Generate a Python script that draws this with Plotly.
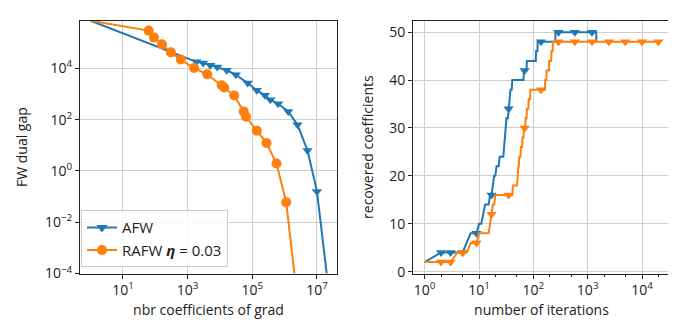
"""
Convergence of AFW vs RAFW: dual gap against gradient cost, and support recovery.
"""

import numpy as np
import plotly.graph_objects as go

BLUE = "#1f77b4"
ORANGE = "#ff7f0e"
FONT = "Open Sans, Noto Sans, sans-serif"
TEXT = "#222"

# left panel: FW dual gap vs number of gradient coefficients
afw_coefs = [1, 1860, 3020, 5000, 8200, 1.62e4, 3.1e4, 7.2e4, 1.38e5, 2.46e5,
             3.6e5, 6.3e5, 1.29e6, 2.5e6, 5.1e6, 1.0e7, 2.0e7]
afw_gap = [7.2e5, 1.8e4, 1.63e4, 1.33e4, 1.12e4, 8400, 5600, 2700, 1390, 890,
           600, 415, 210, 63, 6.3, 0.16, 1e-4]

rafw_coefs = [1, 62, 91, 161, 303, 613, 1590, 4040, 1.12e4, 1.35e4, 2.75e4,
              5.4e4, 6.4e4, 1.38e5, 2.75e5, 5.6e5, 1.12e6, 2.0e6]
rafw_gap = [7.2e5, 2.96e5, 1.58e5, 8.7e4, 4.2e4, 2.2e4, 1.03e4, 5.9e3, 2.2e3,
            1.8e3, 870, 210, 129, 37, 12.3, 1.95, 0.06, 1e-4]

# right panel: recovered coefficients, as (first iteration, value) plateaus
afw_iter_change = [1, 2, 6, 7, 10, 12, 13, 16, 18, 19, 21, 24, 29, 30, 31, 32,
                   35, 37, 38, 41, 67, 76, 112, 120, 255, 1440]
afw_recovered = [2, 4, 6, 8, 10, 12, 14, 16, 18, 20, 22, 24, 26, 28, 30, 32,
                 34, 36, 38, 40, 42, 44, 46, 48, 50, 48]
afw_last_iter = 1440
afw_mark_iters = [2, 3, 5, 9, 17, 35, 69, 138, 290, 580, 1200]

rafw_iter_change = [1, 4, 7, 10, 16, 17, 18, 20, 42, 51, 53, 55, 59, 63, 67,
                    72, 76, 82, 88, 165, 175, 195, 215, 228]
rafw_recovered = [2, 4, 6, 8, 10, 12, 14, 16, 18, 20, 22, 24, 26, 28, 30,
                  32, 34, 36, 38, 40, 42, 44, 46, 48]
rafw_last_iter = 20000
rafw_mark_iters = [2, 3, 5, 9, 17, 35, 69, 138, 290, 580, 1200, 2450, 4900,
                   10000, 20000]

# tick exponents
gap_exps = [-4, -2, 0, 2, 4]
coef_exps = [1, 3, 5, 7]
iter_exps = [0, 1, 2, 3, 4]


def plateau_path(starts, values, last):
    """Turn (start, value) plateaus into a per-iteration polyline."""
    xs, ys = [], []
    for i, (s, v) in enumerate(zip(starts, values)):
        end = starts[i + 1] - 1 if i + 1 < len(starts) else last
        xs += [s, end] if end > s else [s]
        ys += [v, v] if end > s else [v]
    return xs, ys


def pow_ticks(exps):
    vals = [10.0 ** e for e in exps]
    text = [f"10<sup>{str(e).replace('-', '−')}</sup>" for e in exps]
    return dict(tickvals=vals, ticktext=text)


def axis_title(text, standoff=6):
    return dict(text=text, standoff=standoff, font=dict(size=14, color=TEXT, family=FONT))


fig = go.Figure()

# ---- left panel
for name, xs, ys, color, symbol, size in [
    ("AFW", afw_coefs, afw_gap, BLUE, "triangle-down", 9),
    ("RAFW <b><i>η</i></b> = 0.03", rafw_coefs, rafw_gap, ORANGE, "circle", 10),
]:
    fig.add_trace(go.Scatter(x=xs, y=ys, mode="lines", line=dict(color=color, width=2),
                             showlegend=False, xaxis="x", yaxis="y"))
    fig.add_trace(go.Scatter(x=xs[1:-1], y=ys[1:-1], mode="markers",
                             marker=dict(symbol=symbol, size=size, color=color),
                             showlegend=False, xaxis="x", yaxis="y"))
    fig.add_trace(go.Scatter(x=[None], y=[None], mode="lines+markers", name=name,
                             line=dict(color=color, width=2),
                             marker=dict(symbol=symbol, size=10, color=color),
                             xaxis="x", yaxis="y"))

# ---- right panel
for starts, values, last, marks, color in [
    (afw_iter_change, afw_recovered, afw_last_iter, afw_mark_iters, BLUE),
    (rafw_iter_change, rafw_recovered, rafw_last_iter, rafw_mark_iters, ORANGE),
]:
    px, py = plateau_path(starts, values, last)
    fig.add_trace(go.Scatter(x=px, y=py, mode="lines", line=dict(color=color, width=2),
                             showlegend=False, xaxis="x2", yaxis="y2"))
    fig.add_trace(go.Scatter(x=marks, y=np.interp(marks, px, py), mode="markers",
                             marker=dict(symbol="triangle-down", size=9, color=color),
                             showlegend=False, xaxis="x2", yaxis="y2"))

axis_style = dict(
    showline=True, linecolor=TEXT, linewidth=1, mirror=True,
    ticks="outside", ticklen=4, tickcolor=TEXT,
    showgrid=True, gridcolor="#cfcfcf", gridwidth=1, zeroline=False,
    tickfont=dict(size=14, color=TEXT, family=FONT),
)

fig.update_layout(
    width=676, height=330,
    margin=dict(l=0, r=0, t=0, b=0),
    paper_bgcolor="white", plot_bgcolor="white",
    font=dict(family=FONT, color=TEXT),
    xaxis=dict(axis_style, type="log", domain=[0.1065, 0.4867], range=[-0.33, 7.62],
               **pow_ticks(coef_exps),
               title=axis_title("nbr coefficients of grad"), anchor="y"),
    yaxis=dict(axis_style, type="log", domain=[0.1727, 0.9606], range=[-4, 5.86],
               **pow_ticks(gap_exps),
               title=axis_title("FW dual gap", 14), anchor="x"),
    xaxis2=dict(axis_style, type="log", domain=[0.5991, 0.9793], range=[-0.215, 4.515],
                **pow_ticks(iter_exps),
                minor=dict(ticks="outside", ticklen=2, tickcolor=TEXT, showgrid=False,
                           dtick="D2"),
                title=axis_title("number of iterations"), anchor="y2"),
    yaxis2=dict(axis_style, domain=[0.1727, 0.9606], range=[-0.4, 52.4],
                tickvals=[0, 10, 20, 30, 40, 50],
                title=axis_title("recovered coefficients", 12), anchor="x2"),
    legend=dict(x=0.108, y=0.192, xanchor="left", yanchor="bottom",
                bgcolor="rgba(255,255,255,0.85)", bordercolor="#cccccc", borderwidth=1,
                font=dict(size=15, family=FONT, color=TEXT)),
)

fig.write_html("out.html")
